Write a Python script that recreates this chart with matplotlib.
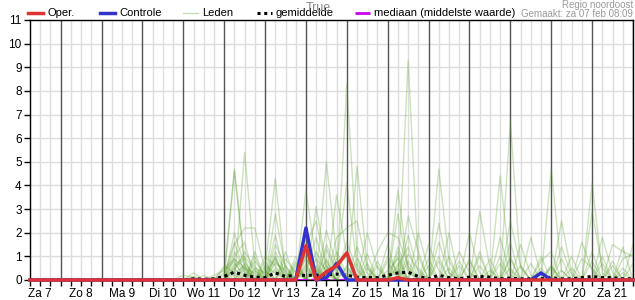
import matplotlib
matplotlib.use("Agg")
import matplotlib.pyplot as plt
from matplotlib.lines import Line2D
import numpy as np

plt.rcParams['font.family'] = ['Liberation Sans', 'DejaVu Sans']

# time axis: 6-hourly steps from Za 7 06:00 to Zo 22 00:00
n_steps = 60
day_labels = ["Za 7", "Zo 8", "Ma 9", "Di 10", "Wo 11", "Do 12", "Vr 13", "Za 14",
              "Zo 15", "Ma 16", "Di 17", "Wo 18", "Do 19", "Vr 20", "Za 21"]

# operational run (non-zero steps only)
oper = {27: 1.45, 28: 0.0, 29: 0.35, 30: 0.6, 31: 1.15, 32: 0.0, 36: 0.1}
# control run
controle = {27: 2.2, 28: 0.0, 29: 0.1, 30: 0.7, 31: 0.0, 50: 0.3}
# ensemble mean
gemiddelde = {16: 0.05, 17: 0.03, 18: 0.05, 19: 0.15, 20: 0.33, 21: 0.2, 22: 0.12, 23: 0.1,
              24: 0.3, 25: 0.15, 26: 0.2, 27: 0.2, 28: 0.2, 29: 0.22, 30: 0.25, 31: 0.2,
              32: 0.12, 33: 0.1, 34: 0.1, 35: 0.2, 36: 0.3, 37: 0.33, 38: 0.15, 39: 0.05,
              40: 0.2, 41: 0.1, 42: 0.05, 43: 0.12, 44: 0.15, 45: 0.12, 46: 0.05, 47: 0.08,
              48: 0.05, 49: 0.05, 50: 0.05, 51: 0.1, 52: 0.05, 53: 0.05, 54: 0.1, 55: 0.15,
              56: 0.1, 57: 0.1, 58: 0.05, 59: 0.05}
# median
mediaan = {28: 0.02, 36: 0.02}

# ensemble members (non-zero steps only)
leden = [
    {19: 0.3, 20: 4.7, 21: 0.5, 24: 1.0, 27: 0.5, 31: 8.3, 32: 1.0, 36: 0.4, 40: 1.0, 47: 0.5, 55: 4.1, 56: 0.3},
    {20: 4.6, 21: 0.8, 23: 0.5, 24: 4.3, 25: 0.3, 29: 1.5, 30: 0.4, 37: 9.3, 38: 0.5, 44: 1.0, 51: 0.5},
    {21: 5.4, 22: 0.6, 28: 3.1, 29: 0.6, 36: 1.2, 40: 4.7, 41: 0.8, 52: 0.4},
    {20: 1.5, 21: 2.2, 22: 2.2, 23: 0.4, 29: 5.0, 30: 1.0, 35: 1.5, 47: 6.7, 48: 0.5},
    {22: 1.0, 24: 2.8, 25: 0.5, 27: 3.8, 28: 0.8, 32: 4.8, 33: 0.6, 46: 1.0, 51: 4.7, 52: 0.4},
    {16: 0.3, 20: 1.0, 21: 1.6, 24: 1.9, 26: 1.0, 30: 3.6, 31: 1.0, 36: 3.8, 37: 0.5, 43: 0.8, 50: 1.0},
    {18: 0.2, 19: 0.4, 20: 0.8, 22: 1.2, 25: 1.2, 27: 1.5, 28: 2.5, 29: 0.5, 33: 2.0, 34: 0.5, 41: 2.0, 55: 2.9, 56: 0.5},
    {20: 2.0, 21: 0.6, 24: 1.0, 26: 0.8, 29: 2.1, 30: 0.6, 31: 4.1, 32: 0.5, 38: 2.0, 39: 0.4, 46: 4.4, 47: 0.4, 57: 1.5, 58: 1.2, 59: 1.0},
    {20: 1.2, 21: 0.4, 23: 1.0, 24: 0.6, 27: 1.0, 30: 1.8, 31: 2.2, 32: 2.5, 33: 0.5, 37: 2.7, 38: 1.2, 40: 2.4, 41: 0.3, 47: 2.5, 48: 0.6},
    {15: 0.2, 16: 0.1, 20: 0.6, 21: 1.0, 22: 0.4, 24: 1.5, 25: 0.6, 28: 1.2, 29: 0.3, 34: 1.2, 35: 2.0, 36: 1.8, 37: 0.6, 44: 2.9, 45: 0.5, 52: 2.5, 53: 0.3},
    {19: 0.5, 20: 0.9, 21: 0.3, 24: 0.8, 25: 0.2, 27: 0.7, 29: 1.3, 30: 0.3, 31: 1.6, 32: 0.4, 36: 2.8, 37: 0.4, 42: 1.2, 43: 0.3, 49: 1.8, 50: 0.2, 58: 1.4},
    {20: 0.4, 21: 1.2, 22: 0.5, 23: 0.3, 24: 0.9, 26: 0.5, 28: 0.6, 30: 1.2, 31: 0.2, 35: 0.8, 37: 1.9, 38: 0.3, 41: 1.0, 48: 1.5, 49: 0.2, 54: 1.6, 55: 0.4},
    {17: 0.2, 20: 0.5, 22: 0.8, 23: 0.2, 25: 0.9, 26: 0.3, 29: 0.8, 32: 1.4, 33: 0.3, 36: 1.0, 39: 1.5, 40: 0.4, 45: 0.9, 47: 1.6, 53: 1.0, 57: 0.8},
    {20: 0.3, 21: 0.6, 24: 0.5, 27: 0.4, 28: 1.8, 29: 0.2, 33: 1.1, 36: 0.6, 37: 1.4, 43: 2.0, 44: 0.3, 50: 0.8, 51: 1.2, 56: 1.8, 57: 0.3},
    {19: 0.2, 20: 1.6, 21: 0.3, 23: 0.6, 24: 0.3, 26: 0.7, 30: 0.5, 31: 1.0, 34: 0.8, 38: 1.0, 40: 1.6, 41: 0.3, 46: 1.8, 47: 0.2, 55: 1.2, 59: 1.5},
    {21: 0.5, 22: 0.3, 24: 0.7, 25: 0.4, 28: 0.9, 29: 0.4, 32: 0.7, 35: 0.4, 36: 0.9, 42: 0.6, 47: 1.0, 52: 1.4, 53: 0.2, 58: 0.9, 59: 1.1},
    {20: 0.7, 21: 0.2, 24: 0.4, 27: 0.9, 28: 0.3, 31: 0.6, 37: 0.8, 39: 0.6, 44: 1.2, 49: 0.7, 54: 0.9, 55: 0.5},
    {16: 0.15, 18: 0.1, 20: 0.2, 22: 0.4, 26: 0.4, 29: 0.6, 33: 0.5, 36: 0.5, 41: 0.5, 45: 0.4, 51: 0.6, 56: 0.7, 58: 0.5},
    {20: 0.5, 21: 0.9, 23: 0.4, 25: 0.6, 27: 1.1, 28: 0.5, 30: 0.9, 34: 0.6, 36: 1.4, 37: 0.3, 40: 0.8, 46: 0.7, 52: 0.9, 57: 0.6},
    {19: 0.6, 20: 0.3, 22: 0.5, 24: 1.2, 25: 0.3, 29: 0.9, 31: 0.5, 35: 1.0, 36: 0.3, 43: 0.9, 48: 0.6, 53: 0.5, 59: 0.7},
    {21: 0.7, 22: 0.2, 26: 0.6, 28: 0.4, 30: 0.6, 32: 0.9, 37: 1.1, 38: 0.4, 42: 0.8, 47: 0.9, 51: 0.6, 56: 1.0},
    {20: 0.9, 21: 0.5, 23: 0.8, 27: 0.6, 29: 0.4, 33: 0.7, 36: 0.7, 39: 0.9, 44: 0.6, 50: 0.5, 55: 0.8, 58: 0.3},
]

legend_x = [28, 100, 183, 257, 355]  # legend entry positions, px from left
legend_labels = ["Oper.", "Controle", "Leden", "gemiddelde", "mediaan (middelste waarde)"]


def to_series(sparse):
    y = np.zeros(n_steps)
    for i, v in sparse.items():
        y[i] = v
    return y


x = np.arange(n_steps)

fig = plt.figure(figsize=(6.35, 3.0), dpi=100)
ax = fig.add_axes([30 / 635, 20 / 300, 603 / 635, 260 / 300])

# grid: light every 6 h, dark at midnight
for i in range(n_steps):
    if (i + 1) % 4 == 0:
        ax.axvline(i, color='#555555', lw=1.0, zorder=1)
    else:
        ax.axvline(i, color='#dddddd', lw=1.0, zorder=0)
for yv in range(12):
    ax.axhline(yv, color='#dddddd', lw=1.0, zorder=0)

for m in leden:
    ax.plot(x, to_series(m), color='#5aa02c', lw=1.0, alpha=0.3, zorder=2)

mean_style = (0, (1, 1.2))
ax.plot(x, to_series(gemiddelde), color='black', lw=2.2, ls=mean_style, zorder=3)
ax.plot(x, to_series(mediaan), color='#cc00ee', lw=1.5, ls='-.', zorder=3)
ax.plot(x, to_series(controle), color='#3333cc', lw=2.5, zorder=4, clip_on=False)
ax.plot(x, to_series(oper), color='#dd3333', lw=2.5, zorder=5, clip_on=False)

ax.set_xlim(0, n_steps - 1)
ax.set_ylim(0, 11)
ax.set_yticks(range(12))
ax.set_xticks(range(n_steps), minor=True)
ax.set_xticks([4 * d + 1 for d in range(len(day_labels))])
ax.set_xticklabels(day_labels)
ax.tick_params(axis='x', which='both', length=4, width=1, color='black', labelsize=8.5, pad=2)
ax.tick_params(axis='y', length=4, width=1, labelsize=8.5, pad=2)
for s in ax.spines.values():
    s.set_color('black')
    s.set_linewidth(1)

# legend drawn by hand along the top margin
styles = [
    dict(color='#dd3333', lw=2.5),
    dict(color='#3333cc', lw=2.5),
    dict(color='#5aa02c', lw=1.0, alpha=0.35),
    dict(color='black', lw=2.2, ls=mean_style),
    dict(color='#cc00ee', lw=2, ls='-.'),
]
ly = 1 - 13 / 300
for px, lab, st in zip(legend_x, legend_labels, styles):
    fig.add_artist(Line2D([px / 635, (px + 15) / 635], [ly, ly], transform=fig.transFigure, **st))
    fig.text((px + 19) / 635, ly, lab, fontsize=8, ha='left', va='center')

fig.text(318 / 635, 1 - 8 / 300, "True", color='#888888', fontsize=9, ha='center', va='center')
fig.text(633 / 635, 1 - 5 / 300, "Regio noordoost", color='#999999', fontsize=7, ha='right', va='center')
fig.text(633 / 635, 1 - 14 / 300, "Gemaakt: za 07 feb 08:09", color='#999999', fontsize=7, ha='right', va='center')

fig.savefig("out.png", dpi=100)
